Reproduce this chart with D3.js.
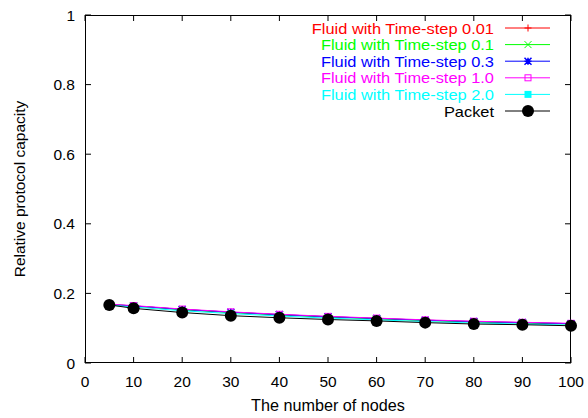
<!DOCTYPE html>
<html><head><meta charset="utf-8">
<script src="https://cdn.jsdelivr.net/npm/d3@7/dist/d3.min.js"></script>
<style>body{margin:0;background:#fff}svg{display:block}text{font-family:"Liberation Sans",Arial,sans-serif}</style>
</head><body><svg id="c" width="588" height="418"></svg>
<script>
const nodes = [5, 10, 20, 30, 40, 50, 60, 70, 80, 90, 100];
const fluid001 = [0.168, 0.164, 0.154, 0.146, 0.139, 0.133, 0.128, 0.123, 0.119, 0.116, 0.113];
const fluid01  = [0.168, 0.164, 0.153, 0.145, 0.138, 0.132, 0.127, 0.122, 0.118, 0.115, 0.112];
const fluid03  = [0.168, 0.164, 0.154, 0.146, 0.139, 0.133, 0.128, 0.123, 0.119, 0.116, 0.113];
const fluid10  = [0.169, 0.165, 0.155, 0.147, 0.140, 0.134, 0.129, 0.124, 0.120, 0.117, 0.114];
const fluid20  = [0.166, 0.161, 0.150, 0.142, 0.135, 0.129, 0.124, 0.119, 0.115, 0.112, 0.109];
const packet   = [0.167, 0.157, 0.145, 0.136, 0.130, 0.125, 0.121, 0.116, 0.112, 0.110, 0.107];
const seriesNames = ["Fluid with Time-step 0.01","Fluid with Time-step 0.1","Fluid with Time-step 0.3","Fluid with Time-step 1.0","Fluid with Time-step 2.0","Packet"];
const seriesColors = ["#ff0000","#00ff00","#0000ff","#ff00ff","#00ffff","#000000"];
const seriesMarkers = ["plus","cross","star","openSquare","filledSquare","circle"];
const seriesValues = [fluid001, fluid01, fluid03, fluid10, fluid20, packet];
const xTicks = [0,10,20,30,40,50,60,70,80,90,100];
const yTicks = [0,0.2,0.4,0.6,0.8,1];
const xTitle = "The number of nodes";
const yTitle = "Relative protocol capacity";

const svg = d3.select("#c");
const L=85, R=571, T=15, B=363;
const x = d3.scaleLinear().domain([0,100]).range([L,R]);
const y = d3.scaleLinear().domain([0,1]).range([B,T]);
const fmtY = d => d===0?"0":d===1?"1":d3.format(".1f")(d);

// ticks (inside, mirrored)
const g = svg.append("g");
const tl = 6;
xTicks.forEach(t=>{
  g.append("line").attr("x1",x(t)).attr("x2",x(t)).attr("y1",B).attr("y2",B-tl).attr("stroke","#000");
  g.append("line").attr("x1",x(t)).attr("x2",x(t)).attr("y1",T).attr("y2",T+tl).attr("stroke","#000");
  g.append("text").attr("x",x(t)).attr("y",B+24).attr("text-anchor","middle").attr("font-size",15.5).text(t);
});
yTicks.forEach(t=>{
  g.append("line").attr("x1",L).attr("x2",L+tl).attr("y1",y(t)).attr("y2",y(t)).attr("stroke","#000");
  g.append("line").attr("x1",R).attr("x2",R-tl).attr("y1",y(t)).attr("y2",y(t)).attr("stroke","#000");
  g.append("text").attr("x",L-10).attr("y",y(t)+5.5).attr("text-anchor","end").attr("font-size",15.5).text(fmtY(t));
});
svg.append("rect").attr("x",L+0.5).attr("y",T+0.5).attr("width",R-L-1).attr("height",B-T-1).attr("fill","none").attr("stroke","#000").attr("stroke-width",1);

svg.append("text").attr("x",(L+R)/2).attr("y",411).attr("text-anchor","middle").attr("font-size",16.2).text(xTitle);
svg.append("text").attr("transform",`translate(24.5,${(T+B)/2}) rotate(-90)`).attr("text-anchor","middle").attr("font-size",15.5).text(yTitle);

function marker(sel, type, cx, cy, color){
  const s=3.5;
  if(type==="plus"){
    sel.append("path").attr("d",`M${cx-s},${cy}H${cx+s}M${cx},${cy-s}V${cy+s}`).attr("stroke",color).attr("fill","none");
  } else if(type==="cross"){
    sel.append("path").attr("d",`M${cx-s},${cy-s}L${cx+s},${cy+s}M${cx-s},${cy+s}L${cx+s},${cy-s}`).attr("stroke",color).attr("fill","none");
  } else if(type==="star"){
    sel.append("path").attr("d",`M${cx-s},${cy}H${cx+s}M${cx},${cy-s}V${cy+s}M${cx-s},${cy-s}L${cx+s},${cy+s}M${cx-s},${cy+s}L${cx+s},${cy-s}`).attr("stroke",color).attr("stroke-width",1.5).attr("fill","none");
  } else if(type==="openSquare"){
    sel.append("rect").attr("x",cx-3).attr("y",cy-3).attr("width",6).attr("height",6).attr("fill","none").attr("stroke",color);
  } else if(type==="filledSquare"){
    sel.append("rect").attr("x",cx-3.5).attr("y",cy-3.5).attr("width",7).attr("height",7).attr("fill",color);
  } else {
    sel.append("circle").attr("cx",cx).attr("cy",cy).attr("r",6).attr("fill",color);
  }
}

const line = d3.line().x((d,i)=>x(nodes[i])).y(d=>y(d));
seriesValues.forEach((vals,k)=>{
  const sg = svg.append("g");
  sg.append("path").attr("d",line(vals)).attr("fill","none").attr("stroke",seriesColors[k]).attr("stroke-width",1);
  vals.forEach((v,i)=>marker(sg, seriesMarkers[k], x(nodes[i]), y(v), seriesColors[k]));
});

// legend
const legY0 = 28, legDy = 16.6;
seriesNames.forEach((n,k)=>{
  const yy = legY0 + k*legDy;
  const t = svg.append("text").attr("x",494).attr("y",yy+5.5).attr("text-anchor","end").attr("font-size",16.4).attr("fill",seriesColors[k]).text(n);
  const w = t.node().getComputedTextLength();
  t.attr("font-size",14.2).attr("textLength",w).attr("lengthAdjust","spacingAndGlyphs");
  svg.append("line").attr("x1",505).attr("x2",550).attr("y1",yy).attr("y2",yy).attr("stroke",seriesColors[k]);
  marker(svg, seriesMarkers[k], 528, yy, seriesColors[k]);
});
</script></body></html>
